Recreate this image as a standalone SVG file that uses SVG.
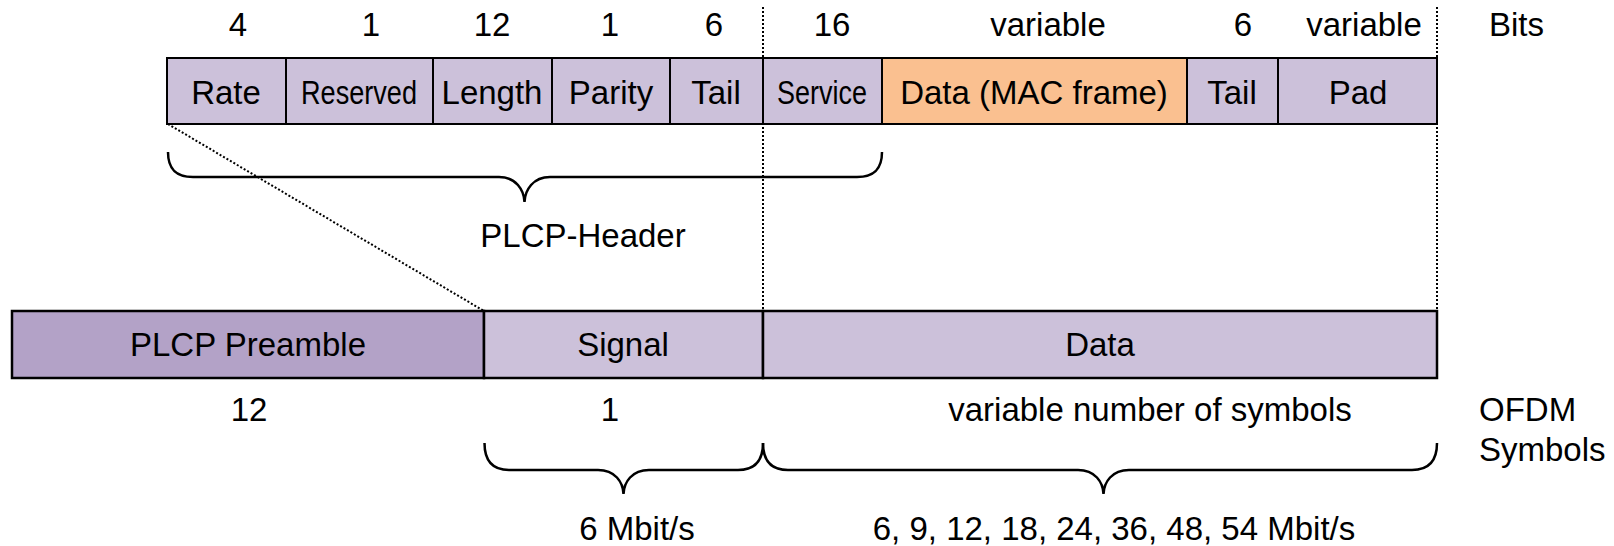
<svg xmlns="http://www.w3.org/2000/svg" width="1614" height="546" viewBox="0 0 1614 546">
<style>
text{font-family:"Liberation Sans",Arial,sans-serif;font-size:33px;fill:#000;text-anchor:middle}
.l{fill:#CCC1DA;stroke:#000;stroke-width:2}
.d{fill:#B3A2C7;stroke:#000;stroke-width:2.5}
.o{fill:#FAC090;stroke:#000;stroke-width:2}
.b{fill:#CCC1DA;stroke:#000;stroke-width:2.5}
.dot{fill:none;stroke:#000;stroke-width:2;stroke-dasharray:2 2}
.br{fill:none;stroke:#000;stroke-width:2.5}
.s{text-anchor:start}
</style>
<rect width="1614" height="546" fill="#fff"/>
<g id="connectors">
<line class="dot" x1="763" y1="7" x2="763" y2="311"/>
<line class="dot" x1="1437" y1="7" x2="1437" y2="311"/>
<line class="dot" x1="168" y1="124" x2="484" y2="311"/>
<path class="br" d="M168,152 C168,168 175,177 193,177 L499,177 C516,177 524,190 524.5,202 C525,190 533,177 550,177 L857,177 C875,177 882,168 882,152"/>
<path class="br" d="M484.5,443 C484.5,460 492,470 509,470 L598,470 C615,470 623,482 623.5,494 C624,482 632,470 649,470 L738,470 C755,470 763,460 763,443"/>
<path class="br" d="M763,443 C763,460 771,470 788,470 L1078,470 C1095,470 1103,482 1103.5,494 C1104,482 1112,470 1129,470 L1412,470 C1429,470 1437,460 1437,443"/>
</g>
<g id="bits-labels">
<text x="238" y="36">4</text>
<text x="371" y="36">1</text>
<text x="492" y="36">12</text>
<text x="610" y="36">1</text>
<text x="714" y="36">6</text>
<text x="832" y="36">16</text>
<text x="1048" y="36">variable</text>
<text x="1243" y="36">6</text>
<text x="1364" y="36">variable</text>
<text class="s" x="1489" y="36">Bits</text>
</g>
<g id="rate"><rect class="l" x="167" y="58" width="119" height="66"/><text x="226" y="104">Rate</text></g>
<g id="reserved"><rect class="l" x="286" y="58" width="147" height="66"/><text x="359" y="104" textLength="116" lengthAdjust="spacingAndGlyphs">Reserved</text></g>
<g id="length"><rect class="l" x="433" y="58" width="119" height="66"/><text x="492" y="104">Length</text></g>
<g id="parity"><rect class="l" x="552" y="58" width="118" height="66"/><text x="611" y="104">Parity</text></g>
<g id="tail1"><rect class="l" x="670" y="58" width="93" height="66"/><text x="716" y="104">Tail</text></g>
<g id="service"><rect class="l" x="763" y="58" width="119" height="66"/><text x="822" y="104" textLength="90" lengthAdjust="spacingAndGlyphs">Service</text></g>
<g id="data-mac"><rect class="o" x="882" y="58" width="305" height="66"/><text x="1034" y="104">Data (MAC frame)</text></g>
<g id="tail2"><rect class="l" x="1187" y="58" width="91" height="66"/><text x="1232" y="104">Tail</text></g>
<g id="pad"><rect class="l" x="1278" y="58" width="159" height="66"/><text x="1358" y="104">Pad</text></g>
<g id="plcp-header-label"><text x="583" y="247">PLCP-Header</text></g>
<g id="preamble"><rect class="d" x="12" y="311" width="472" height="67"/><text x="248" y="356">PLCP Preamble</text></g>
<g id="signal"><rect class="b" x="484" y="311" width="279" height="67"/><text x="623" y="356">Signal</text></g>
<g id="data"><rect class="b" x="763" y="311" width="674" height="67"/><text x="1100" y="356">Data</text></g>
<g id="symbol-labels">
<text x="249" y="421">12</text>
<text x="610" y="421">1</text>
<text x="1150" y="421">variable number of symbols</text>
<text class="s" x="1479" y="421">OFDM</text>
<text class="s" x="1479" y="461">Symbols</text>
</g>
<g id="rate-labels">
<text x="637" y="540">6 Mbit/s</text>
<text x="1114" y="540">6, 9, 12, 18, 24, 36, 48, 54 Mbit/s</text>
</g>
</svg>
